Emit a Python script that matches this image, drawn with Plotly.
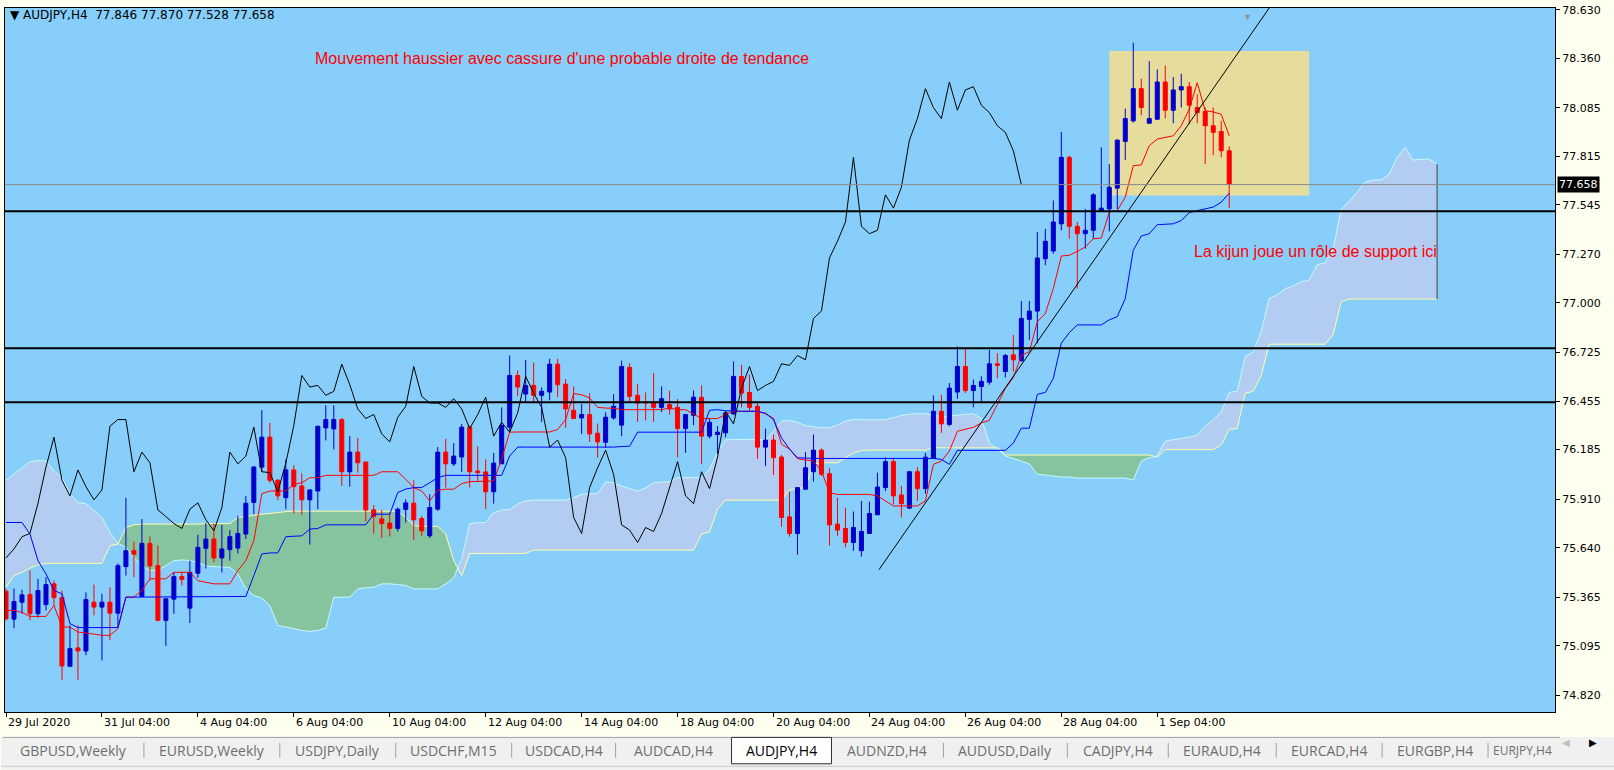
import plotly.graph_objects as go

opens = [75.398, 75.243, 75.337, 75.380, 75.273, 75.324, 75.439, 75.362, 74.981, 75.083,
         75.066, 75.337, 75.310, 75.337, 75.276, 75.535, 75.623, 75.369, 75.664, 75.540,
         75.236, 75.354, 75.479, 75.304, 75.498, 75.637, 75.688, 75.583, 75.629, 75.638,
         75.716, 75.891, 76.088, 76.254, 76.015, 75.918, 76.072, 75.983, 75.906, 75.955,
         76.306, 76.300, 76.352, 76.062, 76.171, 76.116, 75.850, 75.800, 75.777, 75.747,
         75.853, 75.887, 75.802, 75.706, 75.854, 76.171, 76.106, 76.144, 76.310, 76.066,
         76.061, 75.951, 76.106, 76.310, 76.597, 76.494, 76.542, 76.487, 76.505, 76.660,
         76.549, 76.404, 76.361, 76.380, 76.276, 76.226, 76.361, 76.321, 76.642, 76.487,
         76.450, 76.450, 76.420, 76.435, 76.420, 76.302, 76.376, 76.476, 76.260, 76.269,
         76.278, 76.383, 76.592, 76.503, 76.426, 76.199, 76.238, 76.144, 75.811, 75.719,
         75.965, 76.062, 76.182, 76.051, 75.771, 75.747, 75.669, 75.623, 75.719, 75.823,
         75.974, 76.118, 75.933, 75.860, 76.062, 75.968, 76.136, 76.398, 76.325, 76.505,
         76.647, 76.513, 76.536, 76.560, 76.662, 76.619, 76.712, 76.679, 76.909, 76.955,
         77.246, 77.289, 77.440, 77.809, 77.426, 77.385, 77.404, 77.509, 77.523, 77.638,
         77.898, 78.012, 78.191, 77.999, 78.021, 78.228, 78.071, 78.184, 78.202, 78.086,
         78.064, 77.985, 77.953, 77.846]
highs = [75.413, 75.413, 75.406, 75.513, 75.467, 75.476, 75.457, 75.402, 75.208, 75.208,
         75.392, 75.435, 75.384, 75.420, 75.553, 75.918, 75.673, 75.799, 75.702, 75.651,
         75.356, 75.503, 75.503, 75.568, 75.712, 75.778, 75.774, 75.766, 75.738, 75.817,
         75.928, 76.094, 76.404, 76.333, 76.020, 76.131, 76.099, 76.053, 75.961, 76.315,
         76.431, 76.431, 76.361, 76.260, 76.250, 76.116, 75.878, 75.850, 75.835, 75.863,
         75.909, 76.015, 75.817, 75.937, 76.199, 76.245, 76.221, 76.328, 76.319, 76.204,
         76.131, 76.167, 76.420, 76.708, 76.625, 76.684, 76.669, 76.531, 76.690, 76.690,
         76.577, 76.536, 76.438, 76.499, 76.330, 76.392, 76.494, 76.679, 76.665, 76.549,
         76.503, 76.610, 76.536, 76.513, 76.466, 76.380, 76.513, 76.542, 76.358, 76.315,
         76.398, 76.675, 76.656, 76.601, 76.453, 76.302, 76.269, 76.155, 75.951, 75.974,
         76.171, 76.269, 76.192, 76.081, 75.918, 75.863, 75.841, 75.900, 75.896, 76.057,
         76.143, 76.140, 75.983, 76.066, 76.088, 76.167, 76.487, 76.490, 76.555, 76.758,
         76.745, 76.574, 76.592, 76.740, 76.721, 76.717, 76.823, 77.011, 77.011, 77.394,
         77.412, 77.570, 77.951, 77.819, 77.450, 77.523, 77.610, 77.865, 77.772, 77.910,
         78.080, 78.446, 78.246, 78.344, 78.298, 78.320, 78.256, 78.274, 78.228, 78.160,
         78.086, 78.086, 78.012, 77.870]
lows = [75.236, 75.193, 75.273, 75.236, 75.251, 75.291, 75.319, 74.904, 74.978, 74.904,
        75.042, 75.264, 75.014, 75.125, 75.199, 75.485, 75.476, 75.369, 75.457, 75.236,
        75.094, 75.273, 75.430, 75.221, 75.472, 75.524, 75.559, 75.503, 75.568, 75.608,
        75.688, 75.826, 76.062, 76.001, 75.904, 75.854, 75.830, 75.823, 75.657, 75.854,
        76.236, 76.186, 75.983, 75.979, 76.057, 75.785, 75.719, 75.694, 75.702, 75.730,
        75.780, 75.683, 75.706, 75.694, 75.845, 75.974, 76.094, 76.062, 75.974, 76.011,
        75.854, 75.885, 76.106, 76.287, 76.481, 76.450, 76.444, 76.339, 76.459, 76.477,
        76.306, 76.358, 76.272, 76.228, 76.140, 76.195, 76.352, 76.260, 76.444, 76.339,
        76.347, 76.339, 76.394, 76.380, 76.143, 76.167, 76.321, 76.106, 76.247, 76.162,
        76.254, 76.380, 76.420, 76.398, 76.134, 76.094, 76.044, 75.756, 75.701, 75.601,
        75.965, 76.007, 76.038, 75.651, 75.706, 75.642, 75.623, 75.590, 75.716, 75.823,
        75.955, 75.882, 75.808, 75.854, 75.900, 75.940, 76.136, 76.278, 76.315, 76.468,
        76.499, 76.420, 76.453, 76.546, 76.582, 76.586, 76.619, 76.675, 76.795, 76.776,
        77.210, 77.274, 77.404, 77.357, 77.080, 77.302, 77.357, 77.505, 77.398, 77.523,
        77.794, 78.003, 78.043, 77.999, 78.021, 78.025, 77.999, 78.086, 77.994, 77.999,
        77.772, 77.822, 77.809, 77.528]
closes = [75.245, 75.341, 75.378, 75.273, 75.402, 75.435, 75.362, 74.983, 75.079, 75.066,
          75.352, 75.310, 75.337, 75.276, 75.540, 75.623, 75.603, 75.664, 75.539, 75.236,
          75.356, 75.479, 75.464, 75.503, 75.642, 75.688, 75.583, 75.633, 75.701, 75.719,
          75.887, 76.088, 76.254, 76.015, 75.928, 76.072, 75.979, 75.906, 75.961, 76.315,
          76.352, 76.352, 76.062, 76.171, 76.112, 75.850, 75.813, 75.774, 75.747, 75.854,
          75.889, 75.795, 75.734, 75.863, 76.171, 76.106, 76.149, 76.310, 76.062, 76.057,
          75.951, 76.110, 76.319, 76.597, 76.533, 76.542, 76.487, 76.509, 76.660, 76.546,
          76.411, 76.358, 76.380, 76.272, 76.228, 76.365, 76.426, 76.647, 76.481, 76.444,
          76.444, 76.420, 76.468, 76.411, 76.302, 76.380, 76.476, 76.260, 76.337, 76.282,
          76.389, 76.592, 76.499, 76.420, 76.199, 76.238, 76.140, 75.808, 75.719, 75.974,
          76.084, 76.182, 76.048, 75.767, 75.738, 75.669, 75.752, 75.730, 75.830, 75.977,
          76.118, 75.928, 75.885, 76.062, 75.968, 76.143, 76.398, 76.328, 76.527, 76.647,
          76.513, 76.542, 76.564, 76.662, 76.653, 76.708, 76.684, 76.914, 76.955, 77.250,
          77.343, 77.450, 77.809, 77.426, 77.385, 77.404, 77.601, 77.527, 77.643, 77.905,
          78.025, 78.191, 78.086, 78.025, 78.228, 78.071, 78.184, 78.202, 78.099, 78.058,
          77.985, 77.948, 77.846, 77.658]

# Ichimoku : tenkan (rouge), kijun (bleu)
tenkan = [75.291, 75.291, 75.280, 75.258, 75.258, 75.258, 75.319, 75.199, 75.199, 75.171,
          75.166, 75.158, 75.153, 75.153, 75.190, 75.365, 75.365, 75.402, 75.467, 75.467,
          75.467, 75.503, 75.503, 75.503, 75.457, 75.448, 75.439, 75.439, 75.439, 75.513,
          75.568, 75.679, 75.940, 75.955, 75.955, 75.955, 75.992, 76.001, 76.029, 76.029,
          76.042, 76.042, 76.042, 76.042, 76.042, 76.042, 76.042, 76.062, 76.062, 76.062,
          76.020, 75.974, 75.955, 75.900, 75.959, 75.965, 75.965, 75.996, 76.007, 76.007,
          76.007, 76.011, 76.132, 76.282, 76.283, 76.283, 76.283, 76.283, 76.283, 76.297,
          76.352, 76.496, 76.490, 76.472, 76.420, 76.416, 76.415, 76.407, 76.407, 76.407,
          76.407, 76.407, 76.407, 76.416, 76.407, 76.407, 76.383, 76.358, 76.358, 76.358,
          76.380, 76.398, 76.398, 76.398, 76.398, 76.384, 76.359, 76.215, 76.188, 76.134,
          76.127, 76.121, 76.066, 75.946, 75.936, 75.936, 75.936, 75.936, 75.936, 75.928,
          75.900, 75.872, 75.872, 75.872, 75.872, 75.900, 76.103, 76.121, 76.177, 76.287,
          76.298, 76.309, 76.333, 76.348, 76.437, 76.525, 76.586, 76.708, 76.730, 76.896,
          76.942, 77.080, 77.261, 77.265, 77.287, 77.311, 77.357, 77.361, 77.505, 77.514,
          77.588, 77.763, 77.767, 77.874, 77.911, 77.920, 77.929, 77.985, 78.077, 78.224,
          78.068, 78.062, 78.049, 77.929]
kijun = [75.780, 75.780, 75.780, 75.716, 75.568, 75.494, 75.402, 75.384, 75.218, 75.196,
         75.196, 75.196, 75.196, 75.196, 75.196, 75.365, 75.365, 75.365, 75.365, 75.365,
         75.365, 75.365, 75.365, 75.365, 75.365, 75.365, 75.365, 75.365, 75.365, 75.365,
         75.369, 75.485, 75.605, 75.611, 75.611, 75.701, 75.704, 75.706, 75.743, 75.747,
         75.767, 75.767, 75.767, 75.767, 75.767, 75.767, 75.826, 75.826, 75.826, 75.946,
         75.966, 75.974, 75.974, 76.001, 76.029, 76.042, 76.042, 76.042, 76.042, 76.042,
         76.042, 76.042, 76.042, 76.149, 76.199, 76.199, 76.199, 76.199, 76.199, 76.199,
         76.199, 76.199, 76.199, 76.199, 76.199, 76.196, 76.199, 76.202, 76.204, 76.282,
         76.282, 76.282, 76.282, 76.282, 76.282, 76.282, 76.282, 76.282, 76.404, 76.407,
         76.401, 76.398, 76.398, 76.398, 76.398, 76.387, 76.352, 76.250, 76.188, 76.140,
         76.136, 76.136, 76.136, 76.136, 76.136, 76.136, 76.136, 76.136, 76.136, 76.136,
         76.136, 76.136, 76.136, 76.136, 76.136, 76.136, 76.136, 76.131, 76.103, 76.181,
         76.181, 76.181, 76.181, 76.181, 76.181, 76.181, 76.221, 76.304, 76.304, 76.492,
         76.503, 76.581, 76.777, 76.835, 76.878, 76.878, 76.878, 76.878, 76.906, 76.924,
         77.025, 77.293, 77.372, 77.385, 77.435, 77.437, 77.440, 77.458, 77.502, 77.513,
         77.523, 77.533, 77.560, 77.610]

# nuage : senkou span A (bord cyan) et span B (bord jaune), décalés de 26 barres
senkou_a = [76.015, 76.049, 76.083, 76.117, 76.125, 76.121, 76.066, 76.029, 75.939, 75.891,
            75.885, 75.845, 75.808, 75.725, 75.664, 75.642, 75.586, 75.540, 75.513, 75.517,
            75.540, 75.568, 75.572, 75.568, 75.559, 75.538, 75.535, 75.532, 75.531, 75.494,
            75.413, 75.374, 75.360, 75.319, 75.208, 75.199, 75.190, 75.180, 75.175, 75.180,
            75.193, 75.365, 75.365, 75.365, 75.411, 75.417, 75.420, 75.439, 75.439, 75.435,
            75.430, 75.411, 75.411, 75.411, 75.411, 75.439, 75.472, 75.579, 75.774, 75.778,
            75.780, 75.835, 75.849, 75.852, 75.882, 75.900, 75.904, 75.904, 75.904, 75.904,
            75.904, 75.918, 75.937, 75.940, 75.940, 76.005, 76.001, 75.983, 75.969, 75.954,
            75.972, 76.001, 76.005, 76.007, 76.029, 76.029, 76.029, 76.029, 76.077, 76.166,
            76.239, 76.241, 76.241, 76.241, 76.241, 76.238, 76.287, 76.343, 76.347, 76.337,
            76.318, 76.312, 76.307, 76.306, 76.321, 76.343, 76.352, 76.351, 76.351, 76.351,
            76.352, 76.362, 76.376, 76.381, 76.385, 76.384, 76.376, 76.368, 76.373, 76.376,
            76.381, 76.384, 76.357, 76.221, 76.191, 76.149, 76.136, 76.121, 76.105, 76.048,
            76.044, 76.038, 76.033, 76.033, 76.027, 76.027, 76.027, 76.027, 76.027, 76.027,
            76.027, 76.016, 76.121, 76.140, 76.149, 76.232, 76.240, 76.247, 76.254, 76.265,
            76.315, 76.352, 76.393, 76.503, 76.509, 76.702, 76.728, 76.841, 77.025, 77.045,
            77.079, 77.095, 77.118, 77.127, 77.212, 77.224, 77.300, 77.521, 77.563, 77.616,
            77.671, 77.684, 77.684, 77.715, 77.809, 77.865, 77.794, 77.798, 77.800, 77.772]
senkou_b = [75.420, 75.485, 75.503, 75.527, 75.544, 75.553, 75.553, 75.553, 75.553, 75.553,
            75.553, 75.553, 75.553, 75.651, 75.660, 75.752, 75.767, 75.771, 75.771, 75.771,
            75.771, 75.771, 75.771, 75.771, 75.771, 75.774, 75.774, 75.774, 75.774, 75.808,
            75.814, 75.820, 75.826, 75.830, 75.835, 75.841, 75.843, 75.843, 75.843, 75.843,
            75.843, 75.843, 75.843, 75.843, 75.843, 75.843, 75.843, 75.843, 75.843, 75.843,
            75.808, 75.762, 75.758, 75.758, 75.758, 75.716, 75.568, 75.485, 75.608, 75.608,
            75.608, 75.608, 75.608, 75.608, 75.608, 75.608, 75.627, 75.627, 75.627, 75.627,
            75.627, 75.627, 75.627, 75.627, 75.627, 75.627, 75.627, 75.627, 75.627, 75.627,
            75.627, 75.627, 75.627, 75.627, 75.627, 75.627, 75.627, 75.716, 75.729, 75.856,
            75.904, 75.904, 75.904, 75.904, 75.904, 75.904, 75.904, 75.904, 75.961, 75.969,
            75.974, 76.105, 76.112, 76.112, 76.112, 76.140, 76.166, 76.181, 76.182, 76.182,
            76.182, 76.182, 76.182, 76.182, 76.182, 76.182, 76.195, 76.195, 76.195, 76.195,
            76.195, 76.195, 76.195, 76.195, 76.195, 76.155, 76.155, 76.155, 76.155, 76.155,
            76.155, 76.155, 76.155, 76.155, 76.155, 76.155, 76.155, 76.155, 76.155, 76.155,
            76.155, 76.155, 76.155, 76.155, 76.144, 76.185, 76.185, 76.185, 76.185, 76.185,
            76.185, 76.185, 76.210, 76.298, 76.302, 76.499, 76.509, 76.597, 76.771, 76.771,
            76.771, 76.771, 76.771, 76.771, 76.771, 76.771, 76.824, 77.007, 77.022, 77.022,
            77.022, 77.022, 77.022, 77.022, 77.022, 77.022, 77.022, 77.022, 77.022, 77.022]

# axe des dates (une étiquette toutes les 12 barres) et axe des prix
date_ticks = [0, 12, 24, 36, 48, 60, 72, 84, 96, 108, 120, 132, 144]
date_labels = ["29 Jul 2020", "31 Jul 04:00", "4 Aug 04:00", "6 Aug 04:00", "10 Aug 04:00",
               "12 Aug 04:00", "14 Aug 04:00", "18 Aug 04:00", "20 Aug 04:00", "24 Aug 04:00",
               "26 Aug 04:00", "28 Aug 04:00", "1 Sep 04:00"]
price_ticks = [78.630, 78.360, 78.085, 77.815, 77.545, 77.270, 77.000, 76.725,
               76.455, 76.185, 75.910, 75.640, 75.365, 75.095, 74.820]

# objets tracés à la main sur le graphique
levels = [77.510, 76.748, 76.448]
trend_x = [109.2, 158.0]
trend_y = [75.518, 78.639]
zone_x = [138.0, 163.0]
zone_y = [77.597, 78.400]
shift_bars = 26

tabs = ["GBPUSD,Weekly", "EURUSD,Weekly", "USDJPY,Daily", "USDCHF,M15", "USDCAD,H4",
        "AUDCAD,H4", "AUDJPY,H4", "AUDNZD,H4", "AUDUSD,Daily", "CADJPY,H4", "EURAUD,H4",
        "EURCAD,H4", "EURGBP,H4", "EURJPY,H4"]
active_tab = 6

# ---- mise en page (pixels) ----
W, H = 1614, 770
PL, PR, PT, PB = 4, 1555, 5, 712
tab_edges = [2, 143, 279, 395, 511, 615, 731, 831, 943, 1067, 1168, 1276, 1382, 1488, 1560]

BG = "#87CEFA"
BULL = "#0000CD"
BEAR = "#FF0000"
CLOUD_UP = "#B2CCF2"
CLOUD_DN = "#86C4A0"


def px_x(px):
    return (px - PL) / (PR - PL)


def px_y(py):
    return (PB - py) / (PB - PT)


n = len(closes)
bars = list(range(n))

fig = go.Figure()

# corps des bougies
for up, color in [(True, BULL), (False, BEAR)]:
    idx = [i for i in bars if (closes[i] >= opens[i]) == up]
    fig.add_trace(go.Bar(
        x=idx,
        y=[abs(closes[i] - opens[i]) for i in idx],
        base=[min(opens[i], closes[i]) for i in idx],
        width=0.5,
        marker=dict(color=color, line=dict(color=color, width=1)),
        hoverinfo="skip"
    ))

# mèches
for up, color in [(True, BULL), (False, BEAR)]:
    wx, wy = [], []
    for i in bars:
        if (closes[i] >= opens[i]) == up:
            wx += [i, i, None]
            wy += [lows[i], highs[i], None]
    fig.add_trace(go.Scatter(x=wx, y=wy, mode="lines", line=dict(color=color, width=1),
                             hoverinfo="skip"))

# lignes ichimoku
fig.add_trace(go.Scatter(x=bars, y=tenkan, mode="lines", line=dict(color="#FF0000", width=1)))
fig.add_trace(go.Scatter(x=bars, y=kijun, mode="lines", line=dict(color="#0000FF", width=1)))
fig.add_trace(go.Scatter(x=[i - shift_bars for i in bars[shift_bars:]], y=closes[shift_bars:],
                         mode="lines", line=dict(color="black", width=1)))
# droite de tendance
fig.add_trace(go.Scatter(x=trend_x, y=trend_y, mode="lines", line=dict(color="black", width=1)))

# nuage découpé selon la position de A par rapport à B
shapes = []
cx = list(range(len(senkou_a)))
pieces = []
cur = senkou_a[0] >= senkou_b[0]
top, bot = [(cx[0], senkou_a[0])], [(cx[0], senkou_b[0])]
for i in range(1, len(cx)):
    up = senkou_a[i] >= senkou_b[i]
    if up != cur:
        d0 = senkou_a[i - 1] - senkou_b[i - 1]
        d1 = senkou_a[i] - senkou_b[i]
        t = d0 / (d0 - d1)
        xc = cx[i - 1] + t
        yc = senkou_a[i - 1] + t * (senkou_a[i] - senkou_a[i - 1])
        top.append((xc, yc))
        bot.append((xc, yc))
        pieces.append((cur, top, bot))
        top, bot = [(xc, yc)], [(xc, yc)]
        cur = up
    top.append((cx[i], senkou_a[i]))
    bot.append((cx[i], senkou_b[i]))
pieces.append((cur, top, bot))

for up, t_pts, b_pts in pieces:
    pts = t_pts + b_pts[::-1]
    path = "M " + " L ".join(f"{x:.3f},{y:.4f}" for x, y in pts) + " Z"
    shapes.append(dict(type="path", path=path, xref="x", yref="y", layer="below",
                       fillcolor=CLOUD_UP if up else CLOUD_DN, line=dict(width=0)))

for serie, color in [(senkou_b, "#FFFFA8"), (senkou_a, "#C8FAFF")]:
    path = "M " + " L ".join(f"{x},{y}" for x, y in zip(cx, serie))
    shapes.append(dict(type="path", path=path, xref="x", yref="y", layer="below",
                       line=dict(color=color, width=1)))
shapes.append(dict(type="line", xref="x", yref="y", x0=cx[-1], x1=cx[-1],
                   y0=senkou_a[-1], y1=senkou_b[-1], line=dict(color="#404040", width=1),
                   layer="below"))

# zone rectangle jaune
shapes.append(dict(type="rect", xref="x", yref="y", x0=zone_x[0], x1=zone_x[1],
                   y0=zone_y[0], y1=zone_y[1], fillcolor="#E6DC9C", line=dict(width=0),
                   layer="below"))

# lignes horizontales et ligne du prix courant
for lv in levels:
    shapes.append(dict(type="line", xref="paper", yref="y", x0=0, x1=1, y0=lv, y1=lv,
                       line=dict(color="black", width=2)))
shapes.append(dict(type="line", xref="paper", yref="y", x0=0, x1=1, y0=closes[-1], y1=closes[-1],
                   line=dict(color="#8C8C8C", width=1)))

# barre d'onglets en bas
shapes.append(dict(type="rect", xref="paper", yref="paper", x0=px_x(0), x1=px_x(W),
                   y0=px_y(737), y1=px_y(770), fillcolor="#F0F0F0", line=dict(width=0)))
shapes.append(dict(type="line", xref="paper", yref="paper", x0=px_x(2), x1=px_x(1560),
                   y0=px_y(737.5), y1=px_y(737.5), line=dict(color="#A0A0A0", width=1)))
shapes.append(dict(type="line", xref="paper", yref="paper", x0=px_x(0), x1=px_x(W),
                   y0=px_y(766.5), y1=px_y(766.5), line=dict(color="#C8C8C8", width=1)))
for k, e in enumerate(tab_edges[1:-1], start=1):
    if k in (active_tab, active_tab + 1):
        continue
    shapes.append(dict(type="line", xref="paper", yref="paper", x0=px_x(e), x1=px_x(e),
                       y0=px_y(743), y1=px_y(758), line=dict(color="#A0A0A0", width=1)))
shapes.append(dict(type="rect", xref="paper", yref="paper", x0=px_x(tab_edges[active_tab]),
                   x1=px_x(tab_edges[active_tab + 1]), y0=px_y(764), y1=px_y(737.5),
                   fillcolor="white", line=dict(color="#303030", width=1)))

annotations = []
for tv, tl in zip(date_ticks, date_labels):
    annotations.append(dict(x=tv, y=px_y(723), xref="x", yref="paper", text=tl,
                            xanchor="left", yanchor="middle", showarrow=False,
                            font=dict(family="DejaVu Sans", size=11, color="black")))
for k, name in enumerate(tabs):
    tab_font = dict(family="Open Sans", size=14,
                    color="black" if k == active_tab else "#6E6E6E")
    if k == len(tabs) - 1:
        # dernier onglet, serré contre les flèches de défilement
        tab_font["size"] = 12
        annotations.append(dict(x=px_x(tab_edges[k] + 3), y=px_y(751), xref="paper",
                                yref="paper", text=name, showarrow=False, xanchor="left",
                                yanchor="middle", font=tab_font))
        continue
    annotations.append(dict(x=px_x((tab_edges[k] + tab_edges[k + 1]) / 2), y=px_y(751),
                            xref="paper", yref="paper", text=name, showarrow=False,
                            xanchor="center", yanchor="middle", font=tab_font))
annotations.append(dict(x=px_x(1572), y=px_y(751), xref="paper", yref="paper", text="◀",
                        showarrow=False, font=dict(size=10, color="#C0C0C0")))
annotations.append(dict(x=px_x(1599), y=px_y(751), xref="paper", yref="paper", text="▶",
                        showarrow=False, font=dict(size=10, color="black")))

# en-tête et prix courant
header = f"▼ AUDJPY,H4  {opens[-1]:.3f} {highs[-1]:.3f} {lows[-1]:.3f} {closes[-1]:.3f}"
annotations.append(dict(x=px_x(7), y=px_y(12), xref="paper", yref="paper", text=header,
                        xanchor="left", yanchor="middle", showarrow=False,
                        font=dict(family="DejaVu Sans", size=12, color="black")))
annotations.append(dict(x=1, y=closes[-1], xref="paper", yref="y", text=f"{closes[-1]:.3f}",
                        xanchor="left", yanchor="middle", xshift=2, showarrow=False,
                        bgcolor="black", borderpad=1,
                        font=dict(family="DejaVu Sans", size=11, color="white")))
annotations.append(dict(x=155.3, y=1, xref="x", yref="paper", text="▼", showarrow=False,
                        yanchor="top", font=dict(size=9, color="#909090")))

# commentaires en rouge
annotations.append(dict(x=38.4, y=78.359, xref="x", yref="y",
                        text="Mouvement haussier avec cassure d'une probable droite de tendance",
                        xanchor="left", yanchor="middle", showarrow=False,
                        font=dict(family="Liberation Sans", size=16, color="#FF0000")))
annotations.append(dict(x=148.4, y=77.284, xref="x", yref="y",
                        text="La kijun joue un rôle de support ici",
                        xanchor="left", yanchor="middle", showarrow=False,
                        font=dict(family="Liberation Sans", size=16, color="#FF0000")))

fig.update_layout(
    width=W, height=H,
    margin=dict(l=PL, r=W - PR, t=PT, b=H - PB),
    paper_bgcolor="#FFFFF0",
    plot_bgcolor=BG,
    showlegend=False,
    barmode="overlay",
    shapes=shapes,
    annotations=annotations,
    hovermode=False,
)
fig.update_xaxes(range=[-0.125, (PR - 5) / 8], showgrid=False, zeroline=False,
                 tickvals=date_ticks, showticklabels=False, ticks="outside", ticklen=4,
                 tickcolor="black", showline=True, linecolor="black", mirror=True)
fig.update_yaxes(range=[78.667 - 0.005534 * PB, 78.667 - 0.005534 * PT], side="right",
                 showgrid=False, zeroline=False, tickvals=price_ticks,
                 ticktext=[f"{v:.3f}" for v in price_ticks], ticks="outside", ticklen=4,
                 tickcolor="black", showline=True, linecolor="black", mirror=True,
                 tickfont=dict(family="DejaVu Sans", size=11, color="black"))

# pas de marge autour du graphique dans la page, pas de barre d'outils
fig.write_html("out.html", config={"displayModeBar": False},
               post_script="document.body.style.margin = '0';")
